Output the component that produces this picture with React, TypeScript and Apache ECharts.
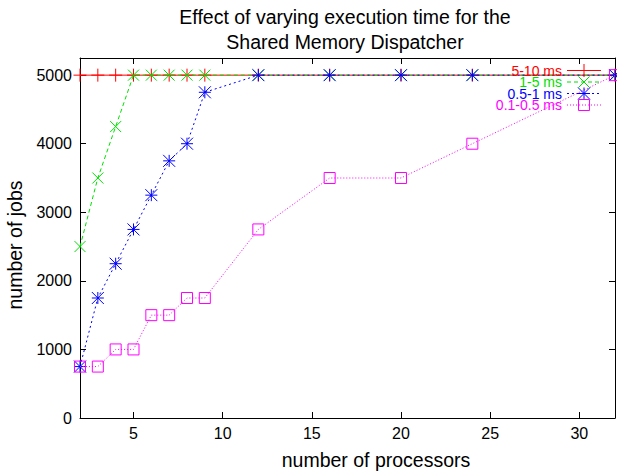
import React, { useEffect, useRef } from "react";
import * as echarts from "echarts";

const processors = [2, 3, 4, 5, 6, 7, 8, 9, 12, 16, 20, 24, 32];
const jobs5to10 = [5000, 5000, 5000, 5000, 5000, 5000, 5000, 5000, 5000, 5000, 5000, 5000, 5000];
const jobs1to5 = [2500, 3500, 4250, 5000, 5000, 5000, 5000, 5000, 5000, 5000, 5000, 5000, 5000];
const jobs05to1 = [750, 1750, 2250, 2750, 3250, 3750, 4000, 4750, 5000, 5000, 5000, 5000, 5000];
const jobs01to05 = [750, 750, 1000, 1000, 1500, 1500, 1750, 1750, 2750, 3500, 3500, 4000, 5000];
const seriesNames = ["5-10 ms", "1-5 ms", "0.5-1 ms", "0.1-0.5 ms"];
const xTicks = [5, 10, 15, 20, 25, 30];
const yTicks = [0, 1000, 2000, 3000, 4000, 5000];
const titleLines = ["Effect of varying execution time for the", "Shared Memory Dispatcher"];
const xName = "number of processors";
const yName = "number of jobs";

const FONT = '"Liberation Sans", Arial, Helvetica, sans-serif';
const COLORS = ["#ff0000", "#00e000", "#0000ff", "#ff00ff"];
const DASHES: any[] = ["solid", [4, 3], [2, 3], [1, 2]];
const SYMBOLS = [
  "path://M6,0L6,12M0,6L12,6",
  "path://M0,0L12,12M12,0L0,12",
  "path://M0,0L12,12M12,0L0,12M6,0L6,12M0,6L12,6",
  "path://M0,0L12,0L12,12L0,12Z",
];
const SYMBOL_SIZES = [13, 11, 12, 11];

function legendMarker(i: number, cx: number, cy: number, color: string): any[] {
  const s = SYMBOL_SIZES[i] / 2;
  const st = { stroke: color, lineWidth: 1, fill: "none" };
  const ln = (x1: number, y1: number, x2: number, y2: number) => ({
    type: "line",
    shape: { x1, y1, x2, y2 },
    style: st,
    z: 10,
  });
  if (i === 0) return [ln(cx - s, cy, cx + s, cy), ln(cx, cy - s, cx, cy + s)];
  if (i === 1) return [ln(cx - s, cy - s, cx + s, cy + s), ln(cx - s, cy + s, cx + s, cy - s)];
  if (i === 2)
    return [
      ln(cx - s, cy - s, cx + s, cy + s),
      ln(cx - s, cy + s, cx + s, cy - s),
      ln(cx - s, cy, cx + s, cy),
      ln(cx, cy - s, cx, cy + s),
    ];
  return [{ type: "rect", shape: { x: cx - s, y: cy - s, width: 2 * s, height: 2 * s }, style: st, z: 10 }];
}

export default function App() {
  const ref = useRef<HTMLDivElement>(null);
  useEffect(() => {
    if (!ref.current) return;
    const chart = echarts.init(ref.current, null, { renderer: "svg" });
    const allData = [jobs5to10, jobs1to5, jobs05to1, jobs01to05];
    const series = allData.map((vals, i) => ({
      name: seriesNames[i],
      type: "line",
      data: processors.map((p, k) => [p, vals[k]]),
      symbol: SYMBOLS[i],
      symbolSize: SYMBOL_SIZES[i],
      showAllSymbol: true,
      clip: false,
      itemStyle: { color: "rgba(0,0,0,0)", borderColor: COLORS[i], borderWidth: 1 },
      lineStyle: { color: COLORS[i], width: 1, type: DASHES[i] },
      emphasis: { disabled: true },
      z: 2 + i,
    }));

    const legendY = [70.5, 82, 93.5, 105];
    const graphic: any[] = [];
    titleLines.forEach((t, i) => {
      graphic.push({
        type: "text",
        x: 345,
        y: 17 + i * 24.5,
        style: { text: t, font: `19.5px ${FONT}`, fill: "#000", align: "center", verticalAlign: "middle" },
      });
    });
    graphic.push({
      type: "text",
      x: 376,
      y: 460,
      style: { text: xName, font: `19.5px ${FONT}`, fill: "#000", align: "center", verticalAlign: "middle" },
    });
    graphic.push({
      type: "text",
      x: 15,
      y: 245,
      rotation: Math.PI / 2,
      style: { text: yName, font: `19.5px ${FONT}`, fill: "#000", align: "center", verticalAlign: "middle" },
    });
    seriesNames.forEach((n, i) => {
      const y = legendY[i];
      graphic.push({
        type: "text",
        x: 562,
        y,
        z: 10,
        style: { text: n, font: `14px ${FONT}`, fill: COLORS[i], align: "right", verticalAlign: "middle" },
      });
      graphic.push({
        type: "line",
        z: 10,
        shape: { x1: 567, y1: y, x2: 601, y2: y },
        style: { stroke: COLORS[i], lineWidth: 1, lineDash: i === 0 ? null : DASHES[i] },
      });
      graphic.push(...legendMarker(i, 584, y, COLORS[i]));
    });

    const axisCommon = {
      axisLine: { show: true, onZero: false, lineStyle: { color: "#000", width: 1 } },
      splitLine: { show: false },
    };
    const fmt = (v: number) => String(v);

    chart.setOption({
      animation: false,
      backgroundColor: "#fff",
      grid: { left: 80, top: 58, width: 535, height: 360, containLabel: false },
      xAxis: [
        {
          type: "value",
          min: 2,
          max: 32,
          position: "bottom",
          ...axisCommon,
          axisTick: { inside: true, length: 6, customValues: xTicks, lineStyle: { color: "#000" } },
          axisLabel: { customValues: xTicks, formatter: fmt, color: "#000", fontSize: 16, fontFamily: FONT, margin: 7 },
        },
        {
          type: "value",
          min: 2,
          max: 32,
          position: "top",
          ...axisCommon,
          axisTick: { inside: true, length: 6, customValues: xTicks, lineStyle: { color: "#000" } },
          axisLabel: { show: false },
        },
      ],
      yAxis: [
        {
          type: "value",
          min: 0,
          max: 5250,
          position: "left",
          ...axisCommon,
          axisTick: { inside: true, length: 6, customValues: yTicks, lineStyle: { color: "#000" } },
          axisLabel: { customValues: yTicks, formatter: fmt, color: "#000", fontSize: 16, fontFamily: FONT, margin: 8 },
        },
        {
          type: "value",
          min: 0,
          max: 5250,
          position: "right",
          ...axisCommon,
          axisTick: { inside: true, length: 6, customValues: yTicks, lineStyle: { color: "#000" } },
          axisLabel: { show: false },
        },
      ],
      series,
      graphic,
    });
    return () => chart.dispose();
  }, []);
  return (
    <div
      ref={ref}
      style={{ position: "absolute", left: 0, top: 0, width: 617, height: 472, background: "#fff" }}
    />
  );
}
